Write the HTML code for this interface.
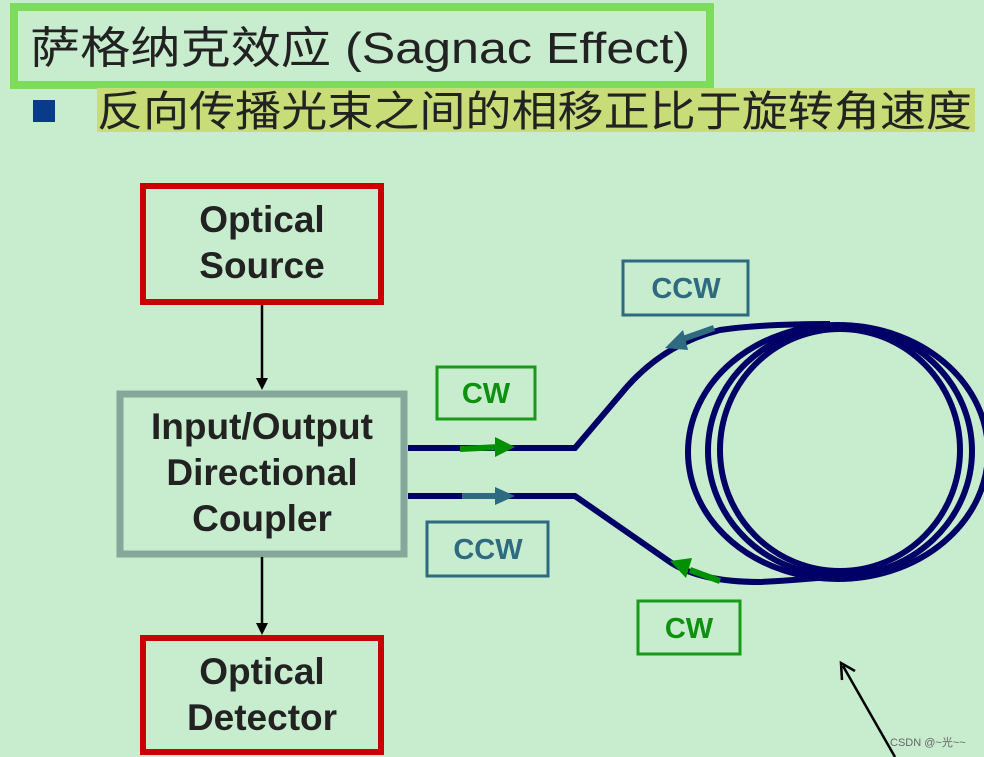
<!DOCTYPE html>
<html><head><meta charset="utf-8"><style>
html,body{margin:0;padding:0;background:#c8ecce;}
svg{display:block}
</style></head><body>
<svg width="984" height="757" viewBox="0 0 984 757" xmlns="http://www.w3.org/2000/svg">
<rect width="984" height="757" fill="#c8ecce"/>
<!-- title -->
<rect x="14" y="7" width="696" height="78" fill="none" stroke="#7ddc5a" stroke-width="8"/>
<text x="30" y="63" font-family="Liberation Sans, 'Noto Sans CJK SC', sans-serif" font-size="44" fill="#222" textLength="660" lengthAdjust="spacingAndGlyphs">萨格纳克效应 (Sagnac Effect)</text>
<rect x="97" y="88" width="878" height="44" fill="#c8dc78"/>
<rect x="33" y="100" width="22" height="22" fill="#0a3a8a"/>
<text x="97" y="126" font-family="Liberation Sans, 'Noto Sans CJK SC', sans-serif" font-size="42" fill="#222" textLength="875" lengthAdjust="spacingAndGlyphs">反向传播光束之间的相移正比于旋转角速度</text>
<!-- boxes -->
<g font-family="Liberation Sans, sans-serif" font-weight="bold" fill="#222" text-anchor="middle" font-size="37">
<rect x="143" y="186" width="238" height="116" fill="none" stroke="#c80000" stroke-width="6"/>
<text x="262" y="232">Optical</text><text x="262" y="278">Source</text>
<rect x="120" y="394" width="284" height="160" fill="none" stroke="#85a89a" stroke-width="7"/>
<text x="262" y="439">Input/Output</text><text x="262" y="485">Directional</text><text x="262" y="531">Coupler</text>
<rect x="143" y="638" width="238" height="114" fill="none" stroke="#c80000" stroke-width="6"/>
<text x="262" y="684">Optical</text><text x="262" y="730">Detector</text>
</g>
<!-- vertical arrows -->
<line x1="262" y1="305" x2="262" y2="380" stroke="#000" stroke-width="2.5"/>
<polygon points="256,378 268,378 262,390" fill="#000"/>
<line x1="262" y1="557" x2="262" y2="625" stroke="#000" stroke-width="2.5"/>
<polygon points="256,623 268,623 262,635" fill="#000"/>
<!-- fiber -->
<g fill="none" stroke="#000066" stroke-width="6">
<ellipse cx="840" cy="450" rx="120" ry="121"/>
<ellipse cx="840" cy="451" rx="132" ry="125"/>
<ellipse cx="838" cy="452" rx="150" ry="127"/>
<path d="M408,448 H575 L620,395 Q660,345 720,330 Q760,324 830,324"/>
<path d="M408,496 H575 L670,562 Q700,582 760,582 Q800,580 850,575"/>
</g>
<!-- direction arrows -->
<line x1="460" y1="449" x2="500" y2="447" stroke="#009000" stroke-width="6"/>
<polygon points="495,437 515,447 495,457" fill="#009000"/>
<line x1="462" y1="496" x2="500" y2="496" stroke="#2e6a80" stroke-width="6"/>
<polygon points="495,487 515,496 495,505" fill="#2e6a80"/>
<line x1="714" y1="328" x2="680" y2="340" stroke="#2e6a80" stroke-width="6"/>
<polygon points="665,348 683,330 688,350" fill="#2e6a80"/>
<line x1="720" y1="581" x2="690" y2="570" stroke="#009000" stroke-width="6"/>
<polygon points="670,561 692,558 686,578" fill="#009000"/>
<!-- labels -->
<g font-family="Liberation Sans, sans-serif" font-weight="bold" text-anchor="middle" font-size="29">
<rect x="437" y="367" width="98" height="52" fill="none" stroke="#1a9a1a" stroke-width="3"/>
<text x="486" y="403" fill="#109010">CW</text>
<rect x="638" y="601" width="102" height="53" fill="none" stroke="#1a9a1a" stroke-width="3"/>
<text x="689" y="638" fill="#109010">CW</text>
<rect x="623" y="261" width="125" height="54" fill="none" stroke="#2e6a80" stroke-width="3"/>
<text x="686" y="298" fill="#2e6a80">CCW</text>
<rect x="427" y="522" width="121" height="54" fill="none" stroke="#2e6a80" stroke-width="3"/>
<text x="488" y="559" fill="#2e6a80">CCW</text>
</g>
<!-- pointer -->
<line x1="895" y1="757" x2="843" y2="666" stroke="#000" stroke-width="2.5"/>
<polyline points="842,680 841,663 855,671" fill="none" stroke="#000" stroke-width="2.5"/>
<text x="890" y="746" font-family="Liberation Sans, 'Noto Sans CJK SC', sans-serif" font-size="11" fill="#666">CSDN @~光~~</text>
</svg>
</body></html>
